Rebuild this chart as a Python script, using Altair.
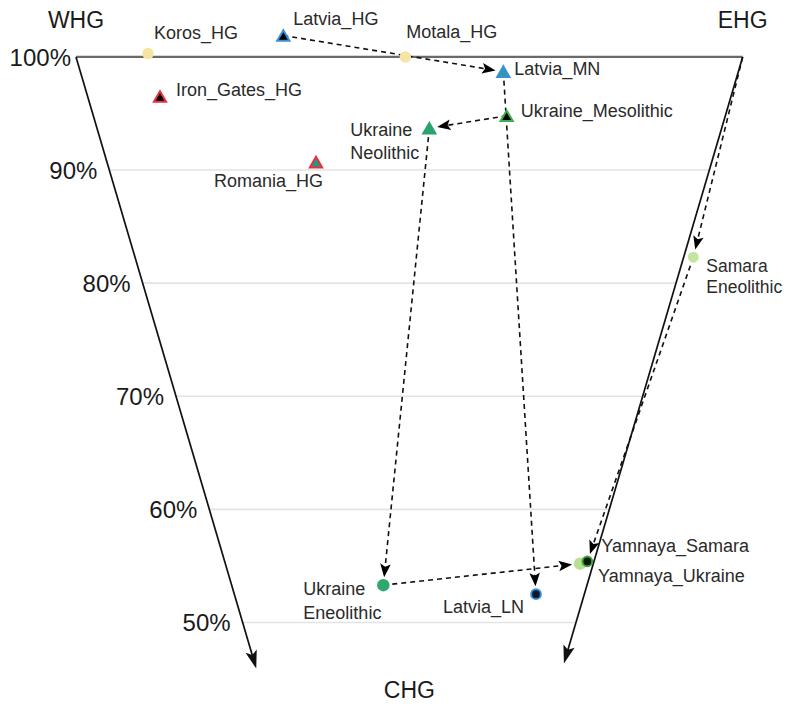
import math
import altair as alt
import pandas as pd

# ---------------- data ----------------
populations = ["Koros_HG", "Latvia_HG", "Motala_HG", "Latvia_MN", "Ukraine_Mesolithic",
               "Ukraine_Neolithic", "Iron_Gates_HG", "Romania_HG", "Samara_Eneolithic",
               "Ukraine_Eneolithic", "Latvia_LN", "Yamnaya_Ukraine", "Yamnaya_Samara"]
labels = ["Koros_HG", "Latvia_HG", "Motala_HG", "Latvia_MN", "Ukraine_Mesolithic",
          "Ukraine\nNeolithic", "Iron_Gates_HG", "Romania_HG", "Samara\nEneolithic",
          "Ukraine\nEneolithic", "Latvia_LN", "Yamnaya_Ukraine", "Yamnaya_Samara"]
# hunter-gatherer ancestry (WHG+EHG, %) -> vertical position
hg_pct = [100.3, 101.9, 100.0, 98.7, 94.8, 93.7, 96.5, 90.7, 82.3, 53.3, 52.5, 55.2, 55.4]
# balance EHG vs WHG ((EHG-WHG)/2, %) -> horizontal position
ehg_balance = [-39.2, -18.9, -0.6, 14.1, 14.6, 3.0, -37.4, -14.0, 42.6, -3.9, 19.0, 25.6, 26.7]

# ancestry trajectories (source -> target)
arrow_from = ["Latvia_HG", "Latvia_MN", "Ukraine_Mesolithic", "Ukraine_Neolithic",
              "Ukraine_Eneolithic", "EHG", "Samara_Eneolithic"]
arrow_to = ["Latvia_MN", "Latvia_LN", "Ukraine_Neolithic", "Ukraine_Eneolithic",
            "Yamnaya_Ukraine", "Samara_Eneolithic", "Yamnaya_Samara"]

grid_levels = [90, 80, 70, 60, 50]
tick_levels = [100, 90, 80, 70, 60, 50]
tick_labels = ["100%", "90%", "80%", "70%", "60%", "50%"]
corner_names = ["WHG", "EHG", "CHG"]
axis_end_pct = [45.95, 46.4]   # where the WHG / EHG axes' arrows end

# ---------------- styles ----------------
STYLE = {
    "Koros_HG": ("circle", "#f6e4a2", "#f6e4a2", 90),
    "Latvia_HG": ("triangle-up", "#000000", "#3b8fd4", 150),
    "Motala_HG": ("circle", "#f6e4a2", "#f6e4a2", 90),
    "Latvia_MN": ("triangle-up", "#2b9cae", "#3b8fd4", 150),
    "Ukraine_Mesolithic": ("triangle-up", "#000000", "#3fae4a", 150),
    "Ukraine_Neolithic": ("triangle-up", "#27a46f", "#27a46f", 150),
    "Iron_Gates_HG": ("triangle-up", "#000000", "#e8323c", 150),
    "Romania_HG": ("triangle-up", "#1f9a86", "#e8323c", 150),
    "Samara_Eneolithic": ("circle", "#c3e5a0", "#c3e5a0", 80),
    "Ukraine_Eneolithic": ("circle", "#2ea86f", "#2ea86f", 110),
    "Latvia_LN": ("circle", "#0d1a2a", "#3b8fd4", 95),
    "Yamnaya_Ukraine": ("circle", "#b9df92", "#b9df92", 110),
    "Yamnaya_Samara": ("circle", "#0a1a0a", "#3aa83a", 95),
}
# label placement: (align, dx, dy, lineHeight, fontSize)
LABEL_POS = {
    "Koros_HG": ("left", 6, -20, 20, 18),
    "Latvia_HG": ("left", 10, -15, 20, 18),
    "Motala_HG": ("left", 1, -24, 20, 18),
    "Latvia_MN": ("left", 11, -2, 20, 18),
    "Ukraine_Mesolithic": ("left", 14, -4, 20, 18),
    "Ukraine_Neolithic": ("left", -79, 3, 23, 18),
    "Iron_Gates_HG": ("left", 16, -6, 20, 18),
    "Romania_HG": ("right", 7, 20, 20, 18),
    "Samara_Eneolithic": ("left", 13, 10, 21, 17.5),
    "Ukraine_Eneolithic": ("left", -80, 5, 23.5, 18),
    "Latvia_LN": ("right", -12, 14, 20, 18),
    "Yamnaya_Samara": ("left", 14, -14, 20, 18),
    "Yamnaya_Ukraine": ("left", 18, 13, 20, 18),
}
FONT = "Liberation Sans, Arial, Helvetica, sans-serif"

W, H = 775, 696
XMIN, XMAX = -60.2, 56.05
YMIN, YMAX = 42.79, 104.33
KX = W / (XMAX - XMIN)
KY = H / (YMAX - YMIN)

xs = alt.Scale(domain=[XMIN, XMAX], nice=False, zero=False)
ys = alt.Scale(domain=[YMIN, YMAX], nice=False, zero=False)


def X(f):
    return alt.X(f, type="quantitative", scale=xs, axis=None)


def Y(f):
    return alt.Y(f, type="quantitative", scale=ys, axis=None)


pts = pd.DataFrame({"pop": populations, "label": labels, "hg": hg_pct, "bal": ehg_balance})
pts["shape"] = [STYLE[p][0] for p in populations]
pts["fill"] = [STYLE[p][1] for p in populations]
pts["stroke"] = [STYLE[p][2] for p in populations]
pts["size"] = [STYLE[p][3] for p in populations]
pts["order"] = list(range(len(populations)))

pos = {p: (b, h) for p, b, h in zip(populations, ehg_balance, hg_pct)}
pos["EHG"] = (50.0, 100.0)


def head(src, dst, gap, half):
    sx, sy = (src[0] - XMIN) * KX, (YMAX - src[1]) * KY
    tx, ty = (dst[0] - XMIN) * KX, (YMAX - dst[1]) * KY
    L = math.hypot(tx - sx, ty - sy)
    ux, uy = (tx - sx) / L, (ty - sy) / L
    cx, cy = tx - ux * (gap + half), ty - uy * (gap + half)
    ang = math.degrees(math.atan2(ux, -uy)) % 360
    return XMIN + cx / KX, YMAX - cy / KY, ang


rows = []
for a, b in zip(arrow_from, arrow_to):
    hx, hy, ang = head(pos[a], pos[b], 8, 7)
    rows.append({"x0": pos[a][0], "y0": pos[a][1], "x1": hx, "y1": hy, "ang": ang})
arrows = pd.DataFrame(rows)

# triangle frame
grid = pd.DataFrame({"p": grid_levels})
grid["xl"] = -grid["p"] / 2
grid["xr"] = grid["p"] / 2
top = pd.DataFrame({"p": [100], "xl": [-50], "xr": [50]})

edge_rows = []
for sign, pe in zip([-1, 1], axis_end_pct):
    src = (sign * 50.0, 100.0)
    tip = (sign * pe / 2, pe)
    hx, hy, ang = head(src, tip, 0, 9.5)
    edge_rows.append({"x0": src[0], "y0": src[1], "x1": hx, "y1": hy, "ang": ang})
edges = pd.DataFrame(edge_rows)

ticks = pd.DataFrame({"p": tick_levels, "t": tick_labels})
ticks["x"] = -ticks["p"] / 2

corners = pd.DataFrame({"name": corner_names, "x": [-50, 50, 0], "y": [100, 100, 46]})

layers = []
layers.append(alt.Chart(grid).mark_rule(color="#e3e3e3", strokeWidth=1.6).encode(
    x=X("xl"), x2="xr", y=Y("p")))
layers.append(alt.Chart(top).mark_rule(color="#6a6a6a", strokeWidth=2.2).encode(
    x=X("xl"), x2="xr", y=Y("p")))
layers.append(alt.Chart(edges).mark_rule(color="#111111", strokeWidth=1.7).encode(
    x=X("x0"), x2="x1", y=Y("y0"), y2="y1"))
layers.append(alt.Chart(edges).mark_point(
    shape="M0,-1L0.6,0.85L0,0.45L-0.6,0.85Z", filled=True, fill="#111111",
    opacity=1, size=380, strokeWidth=0).encode(
    x=X("x1"), y=Y("y1"), angle=alt.Angle("ang:Q", scale=None)))
layers.append(alt.Chart(arrows).mark_rule(color="#111111", strokeWidth=1.6,
                                          strokeDash=[5, 4]).encode(
    x=X("x0"), x2="x1", y=Y("y0"), y2="y1"))
layers.append(alt.Chart(arrows).mark_point(
    shape="M0,-1L0.75,0.9L0,0.5L-0.75,0.9Z", filled=True, fill="#000000",
    opacity=1, size=200, strokeWidth=0).encode(
    x=X("x1"), y=Y("y1"), angle=alt.Angle("ang:Q", scale=None)))
layers.append(alt.Chart(pts).mark_point(filled=True, opacity=1, strokeWidth=2).encode(
    x=X("bal"), y=Y("hg"),
    shape=alt.Shape("shape:N", scale=None),
    fill=alt.Fill("fill:N", scale=None),
    stroke=alt.Stroke("stroke:N", scale=None),
    size=alt.Size("size:Q", scale=None),
    order=alt.Order("order:Q")))

for p in populations:
    align, dx, dy, lh, fs = LABEL_POS[p]
    layers.append(alt.Chart(pts[pts["pop"] == p]).mark_text(
        align=align, baseline="middle", dx=dx, dy=dy, lineBreak="\n", lineHeight=lh,
        font=FONT, fontSize=fs, color="#2a2a2a").encode(
        x=X("bal"), y=Y("hg"), text="label:N"))

layers.append(alt.Chart(ticks[ticks["p"] < 100]).mark_text(
    align="right", baseline="middle", dx=-12, dy=2, font=FONT, fontSize=24,
    color="#1a1a1a").encode(x=X("x"), y=Y("p"), text="t:N"))
layers.append(alt.Chart(ticks[ticks["p"] == 100]).mark_text(
    align="right", baseline="middle", dx=-5, dy=2, font=FONT, fontSize=24,
    color="#1a1a1a").encode(x=X("x"), y=Y("p"), text="t:N"))

corner_dy = {"WHG": -36, "EHG": -36, "CHG": 23}
for c in corner_names:
    layers.append(alt.Chart(corners[corners["name"] == c]).mark_text(
        align="center", baseline="middle", dy=corner_dy[c], font=FONT, fontSize=23,
        color="#1a1a1a").encode(x=X("x"), y=Y("y"), text="name:N"))

chart = alt.layer(*layers).properties(
    width=W, height=H, padding=0, autosize=alt.AutoSizeParams(type="none")
).configure_view(stroke=None)

chart.save("out.html", embed_options={"renderer": "svg", "actions": False})
